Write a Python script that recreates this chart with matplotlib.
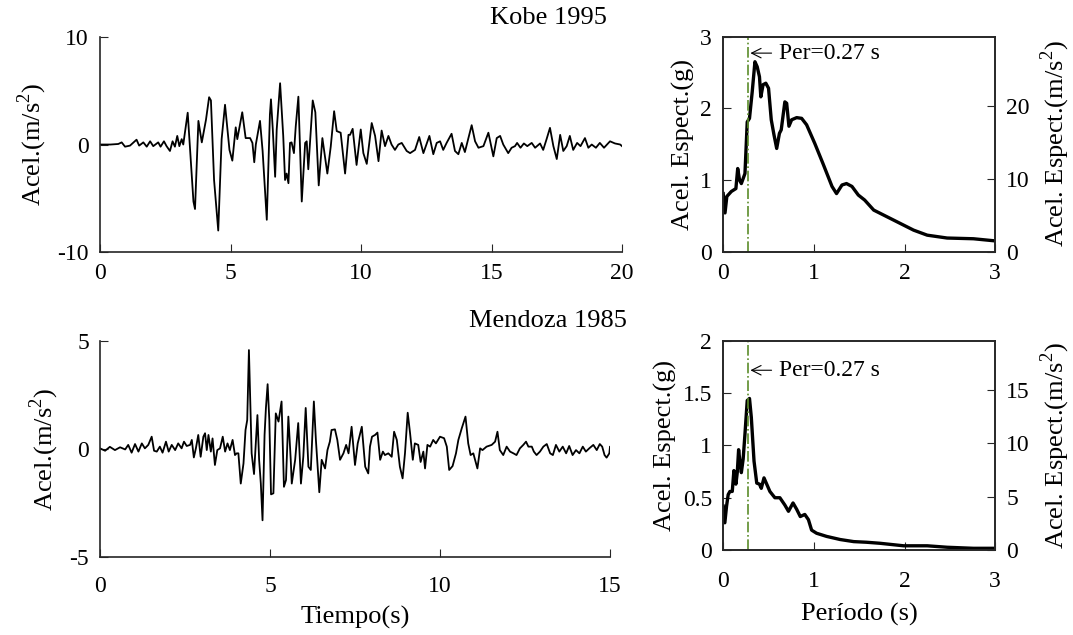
import matplotlib
matplotlib.use("Agg")
import matplotlib.pyplot as plt

plt.rcParams['font.family'] = ['Liberation Serif', 'DejaVu Serif']
plt.rcParams['mathtext.fontset'] = 'custom'
plt.rcParams['mathtext.rm'] = 'Liberation Serif'
plt.rcParams['axes.unicode_minus'] = False

G = 9.81

# acelerograma Kobe 1995 (t en s, a en m/s2)
kobe_t = [0.0, 0.4, 0.7, 0.83, 0.96, 1.15, 1.4, 1.5, 1.66, 1.79, 1.92, 2.04, 2.23, 2.32,
          2.45, 2.55, 2.68, 2.78, 2.87, 2.96, 3.04, 3.13, 3.19, 3.36, 3.58, 3.64, 3.77,
          3.9, 4.06, 4.18, 4.25, 4.37, 4.53, 4.66, 4.79, 4.96, 5.07, 5.2, 5.26, 5.45,
          5.58, 5.75, 5.84, 5.91, 5.97, 6.13, 6.23, 6.39, 6.51, 6.55, 6.62, 6.71, 6.77,
          6.9, 7.02, 7.09, 7.15, 7.22, 7.28, 7.34, 7.43, 7.5, 7.6, 7.73, 7.86, 7.92,
          7.98, 8.15, 8.25, 8.38, 8.52, 8.71, 8.84, 8.97, 9.07, 9.22, 9.39, 9.52, 9.58,
          9.68, 9.83, 9.99, 10.09, 10.22, 10.41, 10.54, 10.67, 10.79, 10.92, 11.05,
          11.17, 11.3, 11.43, 11.56, 11.75, 11.88, 12.07, 12.23, 12.39, 12.62, 12.77,
          12.9, 13.03, 13.15, 13.28, 13.47, 13.6, 13.73, 13.86, 13.98, 14.24, 14.37,
          14.5, 14.69, 14.88, 15.07, 15.2, 15.33, 15.45, 15.64, 15.77, 15.9, 15.98,
          16.11, 16.24, 16.37, 16.54, 16.67, 16.86, 16.98, 17.11, 17.24, 17.37, 17.5,
          17.63, 17.75, 17.88, 18.0, 18.13, 18.28, 18.41, 18.58, 18.71, 18.84, 19.0,
          19.15, 19.31, 19.54, 19.73, 19.93, 20.0]
kobe_a = [0.0, 0.0, 0.05, 0.2, -0.2, -0.1, 0.45, -0.1, 0.2, -0.2, 0.3, -0.15, 0.2, -0.2,
          0.3, -0.15, -0.6, 0.3, -0.2, 0.8, -0.15, 0.5, 0.0, 2.96, -5.3, -6.0, 2.2,
          0.2, 2.3, 4.4, 4.1, -3.3, -8.0, 0.5, 3.7, -0.5, -1.5, 1.6, 0.5, 3.0,
          0.6, 0.6, 0.15, -1.65, 0.0, 2.2, -0.6, -7.0, 2.8, 4.2, 1.4, -3.0, 1.4,
          5.7, 0.8, -3.3, -2.7, -3.6, 0.15, 0.2, -0.8, 1.7, 4.45, -5.3, 0.15, 0.3,
          -2.3, 4.1, 3.0, -3.8, 0.6, -2.7, -0.2, 3.1, 1.25, 1.1, -2.7, 0.9, 0.9,
          1.46, -1.9, 1.4, -0.8, -1.8, 2.0, 0.8, -1.55, 1.3, -0.15, 0.8,
          0.0, -0.5, 0.0, 0.15, -0.6, -0.8, -0.5, 0.7, -0.8, 0.8, -0.9,
          0.15, 0.3, -0.5, 0.15, 1.0, -0.6, -0.9, 0.15, -0.7, 1.8, 0.3,
          -0.3, -0.15, 1.1, -1.1, 0.6, 0.8, 0.0, -0.8, -0.3, -0.15, 0.15,
          -0.3, 0.1, -0.15, 0.15, -0.3, 0.1, -0.5, 0.5, 1.55, -0.15, -1.35,
          0.9, -0.6, -0.15, 0.8, -0.5, 0.15, -0.15, 0.6, -0.3, 0.0, -0.3,
          0.15, -0.3, 0.3, 0.1, 0.0, -0.15]

# acelerograma Mendoza 1985
mend_t = [0.0, 0.15, 0.29, 0.44, 0.59, 0.74, 0.83, 0.93, 1.03, 1.13, 1.23, 1.32, 1.42,
          1.52, 1.59, 1.67, 1.76, 1.84, 1.94, 2.02, 2.11, 2.21, 2.3, 2.4, 2.47, 2.55,
          2.65, 2.7, 2.76, 2.82, 2.89, 2.96, 3.04, 3.09, 3.14, 3.19, 3.26, 3.31, 3.38,
          3.45, 3.53, 3.61, 3.68, 3.75, 3.82, 3.9, 3.97, 4.02, 4.07, 4.14, 4.22, 4.28,
          4.33, 4.38, 4.46, 4.53, 4.63, 4.68, 4.73, 4.78, 4.84, 4.88, 4.93, 4.98, 5.03,
          5.1, 5.17, 5.25, 5.34, 5.41, 5.47, 5.54, 5.61, 5.64, 5.74, 5.83, 5.91, 5.98,
          6.05, 6.13, 6.2, 6.29, 6.35, 6.45, 6.52, 6.62, 6.69, 6.76, 6.81, 6.91, 6.98,
          7.06, 7.16, 7.24, 7.31, 7.4, 7.5, 7.58, 7.7, 7.8, 7.89, 7.94, 8.0, 8.09,
          8.16, 8.24, 8.32, 8.38, 8.48, 8.58, 8.65, 8.73, 8.82, 8.9, 8.97, 9.05, 9.12,
          9.2, 9.26, 9.36, 9.43, 9.51, 9.56, 9.63, 9.71, 9.8, 9.88, 10.0, 10.12, 10.2,
          10.27, 10.37, 10.47, 10.54, 10.64, 10.75, 10.83, 10.9, 10.98, 11.1, 11.18,
          11.25, 11.37, 11.52, 11.62, 11.69, 11.76, 11.86, 11.96, 12.06, 12.16, 12.25,
          12.35, 12.45, 12.53, 12.6, 12.7, 12.76, 12.84, 12.94, 13.04, 13.14, 13.24,
          13.32, 13.41, 13.51, 13.61, 13.71, 13.8, 13.9, 14.0, 14.1, 14.2, 14.29,
          14.39, 14.51, 14.61, 14.7, 14.77, 14.84, 14.9, 14.98, 15.0]
mend_a = [0.03, -0.08, 0.1, -0.05, 0.08, -0.02, 0.19, -0.17, 0.23, -0.12, 0.26, 0.03, 0.19,
          0.57, -0.08, -0.12, 0.11, -0.17, 0.34, -0.12, 0.19, -0.05, 0.26, 0.03, 0.34, 0.14,
          0.19, 0.42, -0.39, 0.03, 0.65, -0.36, 0.57, 0.73, -0.05, 0.65, -0.12, 0.49, -0.74,
          -0.05, 0.03, 0.57, -0.12, 0.26, -0.05, 0.42, -0.28, -0.2, -0.2, -1.6, -0.67, 0.88,
          1.34, 4.58, -0.2, -1.16, 1.57, -0.5, -1.6, -3.3, 0.65, 1.9, 3.0, 1.34, -2.1,
          -2.05, 1.65, 1.27, 2.2, -1.75, -1.44, 1.5, -0.5, -1.6, -0.5, 1.2, -1.6, -0.35,
          1.9, -0.82, -0.97, 2.2, 0.42, -2.0, -0.5, -0.9, -0.05, 0.34, 0.88, 0.91, 0.42,
          -0.5, -0.2, 0.19, -0.2, 1.03, -0.74, 0.26, 1.03, -0.82, -1.13, 0.11, 0.57, 0.65,
          0.76, -0.5, -0.12, -0.28, -0.2, -0.36, 0.8, 0.42, -0.82, -1.36, -0.2, 1.68, 0.73,
          -0.5, 0.26, 0.19, -0.6, -0.12, -0.9, 0.19, 0.11, 0.42, 0.26, 0.57, 0.5, 0.11,
          -0.97, -0.79, -0.2, 0.42, 0.96, 1.5, 0.26, -0.28, -0.2, -0.9, 0.03,
          -0.05, 0.11, 0.19, 0.34, 0.8, -0.05, -0.28, 0.11, -0.12, -0.2, -0.28,
          0.03, 0.19, 0.34, 0.11, 0.11, -0.12, -0.28, -0.12, 0.11, 0.23, -0.2,
          -0.28, 0.19, -0.12, 0.11, -0.2, 0.14, -0.28, -0.05, -0.2, 0.11, -0.12,
          0.03, 0.19, -0.05, 0.23, 0.11, -0.28, -0.4, -0.2, 0.1]

# espectros de respuesta (T en s, Sa en g)
kobe_T = [0.0, 0.02, 0.04, 0.09, 0.14, 0.16, 0.18, 0.2, 0.24, 0.265, 0.29, 0.32, 0.35,
          0.375, 0.4, 0.415, 0.44, 0.47, 0.5, 0.53, 0.56, 0.59, 0.62, 0.64, 0.68, 0.7,
          0.725, 0.755, 0.81, 0.865, 0.92, 1.01, 1.1, 1.2, 1.25, 1.31, 1.36, 1.42, 1.49,
          1.56, 1.66, 1.88, 2.1, 2.25, 2.47, 2.76, 3.0]
kobe_Sa = [0.81, 0.54, 0.77, 0.84, 0.88, 1.16, 1.0, 0.95, 1.09, 1.81, 1.86, 2.23, 2.65,
           2.58, 2.44, 2.16, 2.33, 2.35, 2.28, 1.84, 1.63, 1.44, 1.65, 1.7, 2.09, 2.07,
           1.75, 1.84, 1.87, 1.86, 1.77, 1.51, 1.23, 0.91, 0.81, 0.93, 0.95, 0.91, 0.79,
           0.72, 0.58, 0.44, 0.3, 0.23, 0.19, 0.18, 0.15]
mend_T = [0.0, 0.018, 0.037, 0.055, 0.074, 0.1, 0.118, 0.14, 0.155, 0.17, 0.184, 0.2,
          0.22, 0.24, 0.265, 0.29, 0.31, 0.34, 0.37, 0.4, 0.42, 0.45, 0.48, 0.515, 0.57,
          0.625, 0.68, 0.72, 0.77, 0.81, 0.85, 0.9, 0.94, 0.975, 1.03, 1.14, 1.29, 1.44,
          1.58, 1.73, 1.99, 2.25, 2.47, 2.76, 3.0]
mend_Sa = [0.42, 0.26, 0.42, 0.53, 0.56, 0.56, 0.76, 0.63, 0.74, 0.96, 0.85, 0.74,
           0.87, 1.11, 1.43, 1.45, 1.27, 0.85, 0.64, 0.63, 0.59, 0.69, 0.63, 0.56, 0.5,
           0.5, 0.43, 0.37, 0.45, 0.39, 0.32, 0.34, 0.29, 0.19, 0.16, 0.13, 0.1, 0.08,
           0.074, 0.064, 0.04, 0.04, 0.026, 0.016, 0.016]

T_per = 0.27
verde = '#5b8c2a'
gris = '#262626'
fs_tick = 17
fs_lab = 19

fig = plt.figure(figsize=(10.73, 6.35), dpi=100)

ax1 = fig.add_axes([0.0932, 0.6031, 0.4865, 0.3386])
ax2 = fig.add_axes([0.0932, 0.1228, 0.4753, 0.3402])
ax3 = fig.add_axes([0.6740, 0.6037, 0.2535, 0.3386])
ax4 = fig.add_axes([0.6740, 0.1339, 0.2535, 0.3291])

# historias temporales
for ax, t, a, lim, ticks, yt in [(ax1, kobe_t, kobe_a, 20, [0, 5, 10, 15, 20], [-10, 0, 10]),
                                 (ax2, mend_t, mend_a, 15, [0, 5, 10, 15], [-5, 0, 5])]:
    ax.plot(t, a, color='k', lw=1.3)
    ax.set_xlim(0, lim)
    ax.set_ylim(yt[0], yt[-1])
    ax.set_xticks(ticks)
    ax.set_yticks(yt)
    ax.spines['top'].set_visible(False)
    ax.spines['right'].set_visible(False)
    for s in ['left', 'bottom']:
        ax.spines[s].set_color(gris)
        ax.spines[s].set_linewidth(1.2)
    ax.tick_params(direction='in', labelsize=fs_tick, length=6, color=gris, pad=8)
    ax.set_ylabel('Acel.(m/s$^2$)', fontsize=fs_lab, labelpad=6)

ax2.tick_params(axis='x', pad=14)
ax2.set_xlabel('Tiempo(s)', fontsize=fs_lab, labelpad=6)
fig.text(0.5657, 0.972, 'Kobe 1995', fontsize=19, ha='right', va='center')
fig.text(0.5843, 0.494, 'Mendoza 1985', fontsize=19, ha='right', va='center')

# espectros
for ax, T, Sa, ymax, yt, yt2, ytxt in [(ax3, kobe_T, kobe_Sa, 3, [0, 1, 2, 3], [0, 10, 20], 2.77),
                                       (ax4, mend_T, mend_Sa, 2, [0, 0.5, 1, 1.5, 2], [0, 5, 10, 15], 1.72)]:
    ax.plot(T, Sa, color='k', lw=2.4)
    ax.axvline(T_per, color=verde, lw=1.2, ls='-.')
    ax.annotate('Per=0.27 s', xy=(T_per + 0.03, ytxt), xytext=(0.61, ytxt),
                fontsize=fs_tick, va='center', ha='left',
                arrowprops=dict(arrowstyle='->', color='k', lw=0.8, shrinkA=3, shrinkB=0))
    ax.set_xlim(0, 3)
    ax.set_ylim(0, ymax)
    ax.set_xticks([0, 1, 2, 3])
    ax.set_yticks(yt)
    ax.set_yticklabels([f'{v:g}' for v in yt])
    for s in ax.spines.values():
        s.set_color(gris)
        s.set_linewidth(1.2)
    ax.tick_params(direction='in', labelsize=fs_tick, length=6, color=gris, pad=8)
    ax.set_ylabel('Acel. Espect.(g)', fontsize=fs_lab, labelpad=4)
    axr = ax.twinx()
    axr.set_ylim(0, ymax * G)
    axr.set_yticks(yt2)
    axr.tick_params(direction='in', labelsize=fs_tick, length=6, color=gris, pad=8)
    for s in axr.spines.values():
        s.set_color(gris)
        s.set_linewidth(1.2)
    axr.set_ylabel('Acel. Espect.(m/s$^2$)', fontsize=fs_lab, labelpad=6)

ax4.tick_params(axis='x', pad=15)
ax4.set_xlabel('Período (s)', fontsize=fs_lab, labelpad=8)

fig.savefig('out.png', dpi=100)
